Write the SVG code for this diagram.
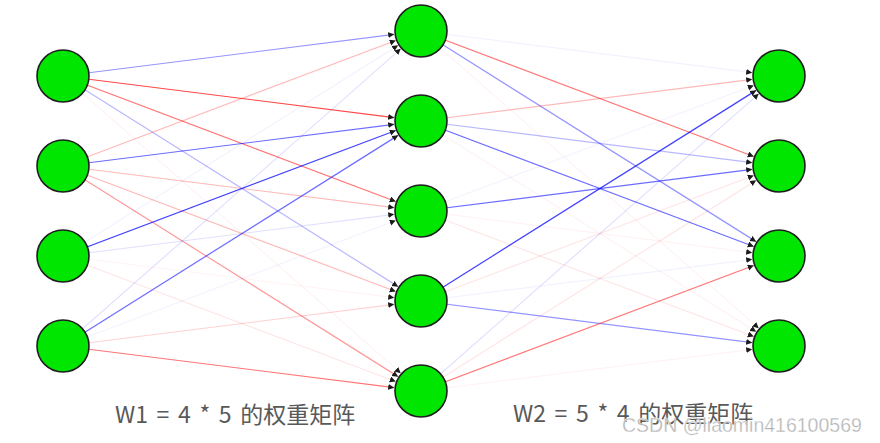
<svg xmlns="http://www.w3.org/2000/svg" width="880" height="443" viewBox="0 0 880 443">
<style>
.e{fill:none;stroke-width:1.2;marker-end:url(#ah)}
.b8{stroke:#0000ff;stroke-opacity:.75}
.b6{stroke:#0000ff;stroke-opacity:.58}
.b4{stroke:#0000ff;stroke-opacity:.42}
.b3{stroke:#0000ff;stroke-opacity:.28}
.b1{stroke:#0000ff;stroke-opacity:.12}
.b0{stroke:#0000ff;stroke-opacity:.05}
.r8{stroke:#ff0000;stroke-opacity:.72}
.r6{stroke:#ff0000;stroke-opacity:.55}
.r4{stroke:#ff0000;stroke-opacity:.4}
.r3{stroke:#ff0000;stroke-opacity:.28}
.r2{stroke:#ff0000;stroke-opacity:.18}
.r1{stroke:#ff0000;stroke-opacity:.1}
.r0{stroke:#ff0000;stroke-opacity:.05}
.n{fill:#00e600;stroke:#1e1e1e;stroke-width:1.6}
.t{font-family:"Noto Sans CJK SC","Liberation Sans",sans-serif;font-size:23px;word-spacing:3.5px;fill:#595959}
.w{font-family:"Liberation Sans","Noto Sans",sans-serif;font-size:19.5px;fill:#b4b4b4;stroke:#ffffff;stroke-width:0.3}
</style>
<defs>
<marker id="ah" markerUnits="userSpaceOnUse" markerWidth="7" markerHeight="7" refX="6" refY="3" orient="auto">
<path d="M0,0 L6,3 L0,6 z" fill="#1a1a1a"/>
</marker>
</defs>
<rect width="880" height="443" fill="#ffffff"/>
<g id="connectors">
<line class="e b4" x1="63" y1="76" x2="394.21" y2="34.37"/>
<line class="e r8" x1="63" y1="76" x2="394.21" y2="117.63"/>
<line class="e r6" x1="63" y1="76" x2="395.74" y2="201.47"/>
<line class="e b3" x1="63" y1="76" x2="398.14" y2="286.63"/>
<line class="e r0" x1="63" y1="76" x2="400.73" y2="373.16"/>
<line class="e r3" x1="63" y1="166" x2="395.74" y2="40.53"/>
<line class="e b6" x1="63" y1="166" x2="394.21" y2="124.37"/>
<line class="e r3" x1="63" y1="166" x2="394.21" y2="207.63"/>
<line class="e r3" x1="63" y1="166" x2="395.74" y2="291.47"/>
<line class="e r4" x1="63" y1="166" x2="398.14" y2="376.63"/>
<line class="e b0" x1="63" y1="256" x2="398.14" y2="45.37"/>
<line class="e b8" x1="63" y1="256" x2="395.74" y2="130.53"/>
<line class="e b1" x1="63" y1="256" x2="394.21" y2="214.37"/>
<line class="e r0" x1="63" y1="256" x2="394.21" y2="297.63"/>
<line class="e r1" x1="63" y1="256" x2="395.74" y2="381.47"/>
<line class="e b1" x1="63" y1="346" x2="400.73" y2="48.84"/>
<line class="e b6" x1="63" y1="346" x2="398.14" y2="135.37"/>
<line class="e b0" x1="63" y1="346" x2="395.74" y2="220.53"/>
<line class="e r2" x1="63" y1="346" x2="394.21" y2="304.37"/>
<line class="e r6" x1="63" y1="346" x2="394.21" y2="387.63"/>
<line class="e b0" x1="421" y1="31" x2="752.21" y2="72.63"/>
<line class="e r6" x1="421" y1="31" x2="753.74" y2="156.47"/>
<line class="e b4" x1="421" y1="31" x2="756.14" y2="241.63"/>
<line class="e r0" x1="421" y1="31" x2="758.73" y2="328.16"/>
<line class="e r3" x1="421" y1="121" x2="752.21" y2="79.37"/>
<line class="e b3" x1="421" y1="121" x2="752.21" y2="162.63"/>
<line class="e b6" x1="421" y1="121" x2="753.74" y2="246.47"/>
<line class="e r0" x1="421" y1="121" x2="756.14" y2="331.63"/>
<line class="e b0" x1="421" y1="211" x2="753.74" y2="85.53"/>
<line class="e b6" x1="421" y1="211" x2="752.21" y2="169.37"/>
<line class="e r0" x1="421" y1="211" x2="752.21" y2="252.63"/>
<line class="e r1" x1="421" y1="211" x2="753.74" y2="336.47"/>
<line class="e b8" x1="421" y1="301" x2="756.14" y2="90.37"/>
<line class="e r1" x1="421" y1="301" x2="753.74" y2="175.53"/>
<line class="e b0" x1="421" y1="301" x2="752.21" y2="259.37"/>
<line class="e b4" x1="421" y1="301" x2="752.21" y2="342.63"/>
<line class="e b1" x1="421" y1="391" x2="758.73" y2="93.84"/>
<line class="e r1" x1="421" y1="391" x2="756.14" y2="180.37"/>
<line class="e r6" x1="421" y1="391" x2="753.74" y2="265.53"/>
<line class="e r0" x1="421" y1="391" x2="752.21" y2="349.37"/>
</g>
<g id="input-1"><circle class="n" cx="63" cy="76" r="26"/></g>
<g id="input-2"><circle class="n" cx="63" cy="166" r="26"/></g>
<g id="input-3"><circle class="n" cx="63" cy="256" r="26"/></g>
<g id="input-4"><circle class="n" cx="63" cy="346" r="26"/></g>
<g id="hidden-1"><circle class="n" cx="421" cy="31" r="26"/></g>
<g id="hidden-2"><circle class="n" cx="421" cy="121" r="26"/></g>
<g id="hidden-3"><circle class="n" cx="421" cy="211" r="26"/></g>
<g id="hidden-4"><circle class="n" cx="421" cy="301" r="26"/></g>
<g id="hidden-5"><circle class="n" cx="421" cy="391" r="26"/></g>
<g id="output-1"><circle class="n" cx="779" cy="76" r="26"/></g>
<g id="output-2"><circle class="n" cx="779" cy="166" r="26"/></g>
<g id="output-3"><circle class="n" cx="779" cy="256" r="26"/></g>
<g id="output-4"><circle class="n" cx="779" cy="346" r="26"/></g>
<g id="labels">
<text class="t" x="115" y="423">W1 = 4 * 5 的权重矩阵</text>
<text class="t" x="513" y="422">W2 = 5 * 4 的权重矩阵</text>
<text class="w" x="622" y="432">CSDN @liaomin416100569</text>
</g>
</svg>
